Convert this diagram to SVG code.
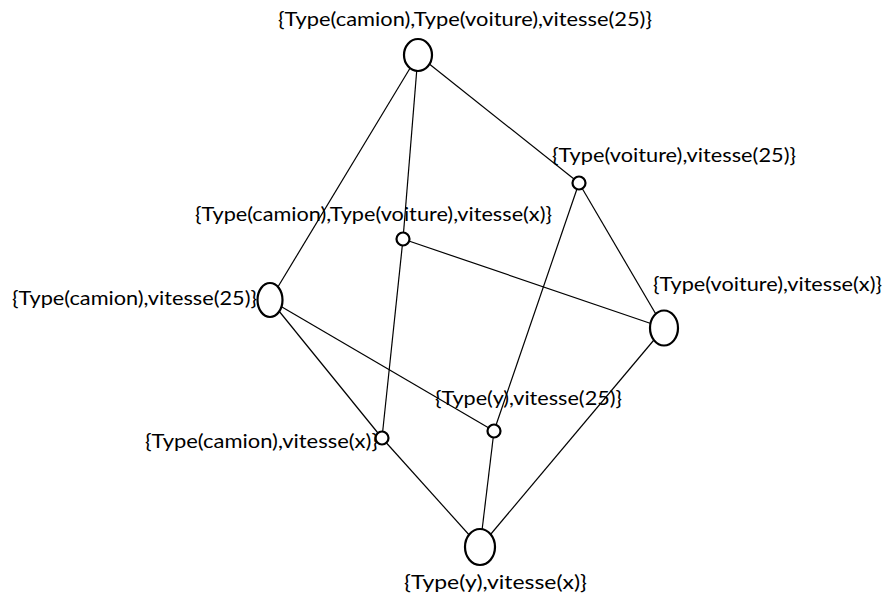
<svg xmlns="http://www.w3.org/2000/svg" width="886" height="598" viewBox="0 0 886 598">
<style>
.e{stroke:#000;stroke-width:1.2;fill:none}
.n{stroke:#000;stroke-width:2.2;fill:#fff}
text{font-family:Lato,"Open Sans",sans-serif;font-size:20px;fill:#000}
</style>
<rect width="886" height="598" fill="#fff"/>
<g id="connectors">
<line class="e" x1="418" y1="55" x2="270" y2="300"/>
<line class="e" x1="418" y1="55" x2="403" y2="239"/>
<line class="e" x1="418" y1="55" x2="579" y2="183"/>
<line class="e" x1="579" y1="183" x2="664" y2="328"/>
<line class="e" x1="579" y1="183" x2="494" y2="431"/>
<line class="e" x1="403" y1="239" x2="664" y2="328"/>
<line class="e" x1="403" y1="239" x2="382" y2="438"/>
<line class="e" x1="270" y1="300" x2="382" y2="438"/>
<line class="e" x1="270" y1="300" x2="494" y2="431"/>
<line class="e" x1="382" y1="438" x2="480" y2="547"/>
<line class="e" x1="494" y1="431" x2="480" y2="547"/>
<line class="e" x1="664" y1="328" x2="480" y2="547"/>
</g>
<g id="n-top">
<ellipse class="n" cx="418" cy="55" rx="14" ry="16"/>
<text x="278" y="26" textLength="374" lengthAdjust="spacingAndGlyphs">{Type(camion),Type(voiture),vitesse(25)}</text>
</g>
<g id="n-voiture-25">
<circle class="n" cx="579" cy="183" r="6.5"/>
<text x="552" y="162" textLength="244" lengthAdjust="spacingAndGlyphs">{Type(voiture),vitesse(25)}</text>
</g>
<g id="n-camion-voiture-x">
<circle class="n" cx="403" cy="239" r="6.5"/>
<text x="195" y="221" textLength="357" lengthAdjust="spacingAndGlyphs">{Type(camion),Type(voiture),vitesse(x)}</text>
</g>
<g id="n-camion-25">
<ellipse class="n" cx="270" cy="300" rx="12.5" ry="17"/>
<text x="12" y="305" textLength="245" lengthAdjust="spacingAndGlyphs">{Type(camion),vitesse(25)}</text>
</g>
<g id="n-voiture-x">
<ellipse class="n" cx="664" cy="328" rx="14" ry="17.5"/>
<text x="653" y="291" textLength="229" lengthAdjust="spacingAndGlyphs">{Type(voiture),vitesse(x)}</text>
</g>
<g id="n-camion-x">
<circle class="n" cx="382" cy="438" r="6.5"/>
<text x="145" y="448" textLength="233" lengthAdjust="spacingAndGlyphs">{Type(camion),vitesse(x)}</text>
</g>
<g id="n-y-25">
<circle class="n" cx="494" cy="431" r="6.5"/>
<text x="435" y="405" textLength="187" lengthAdjust="spacingAndGlyphs">{Type(y),vitesse(25)}</text>
</g>
<g id="n-bottom">
<ellipse class="n" cx="480" cy="547" rx="15" ry="18"/>
<text x="404" y="589" textLength="183" lengthAdjust="spacingAndGlyphs">{Type(y),vitesse(x)}</text>
</g>
</svg>
